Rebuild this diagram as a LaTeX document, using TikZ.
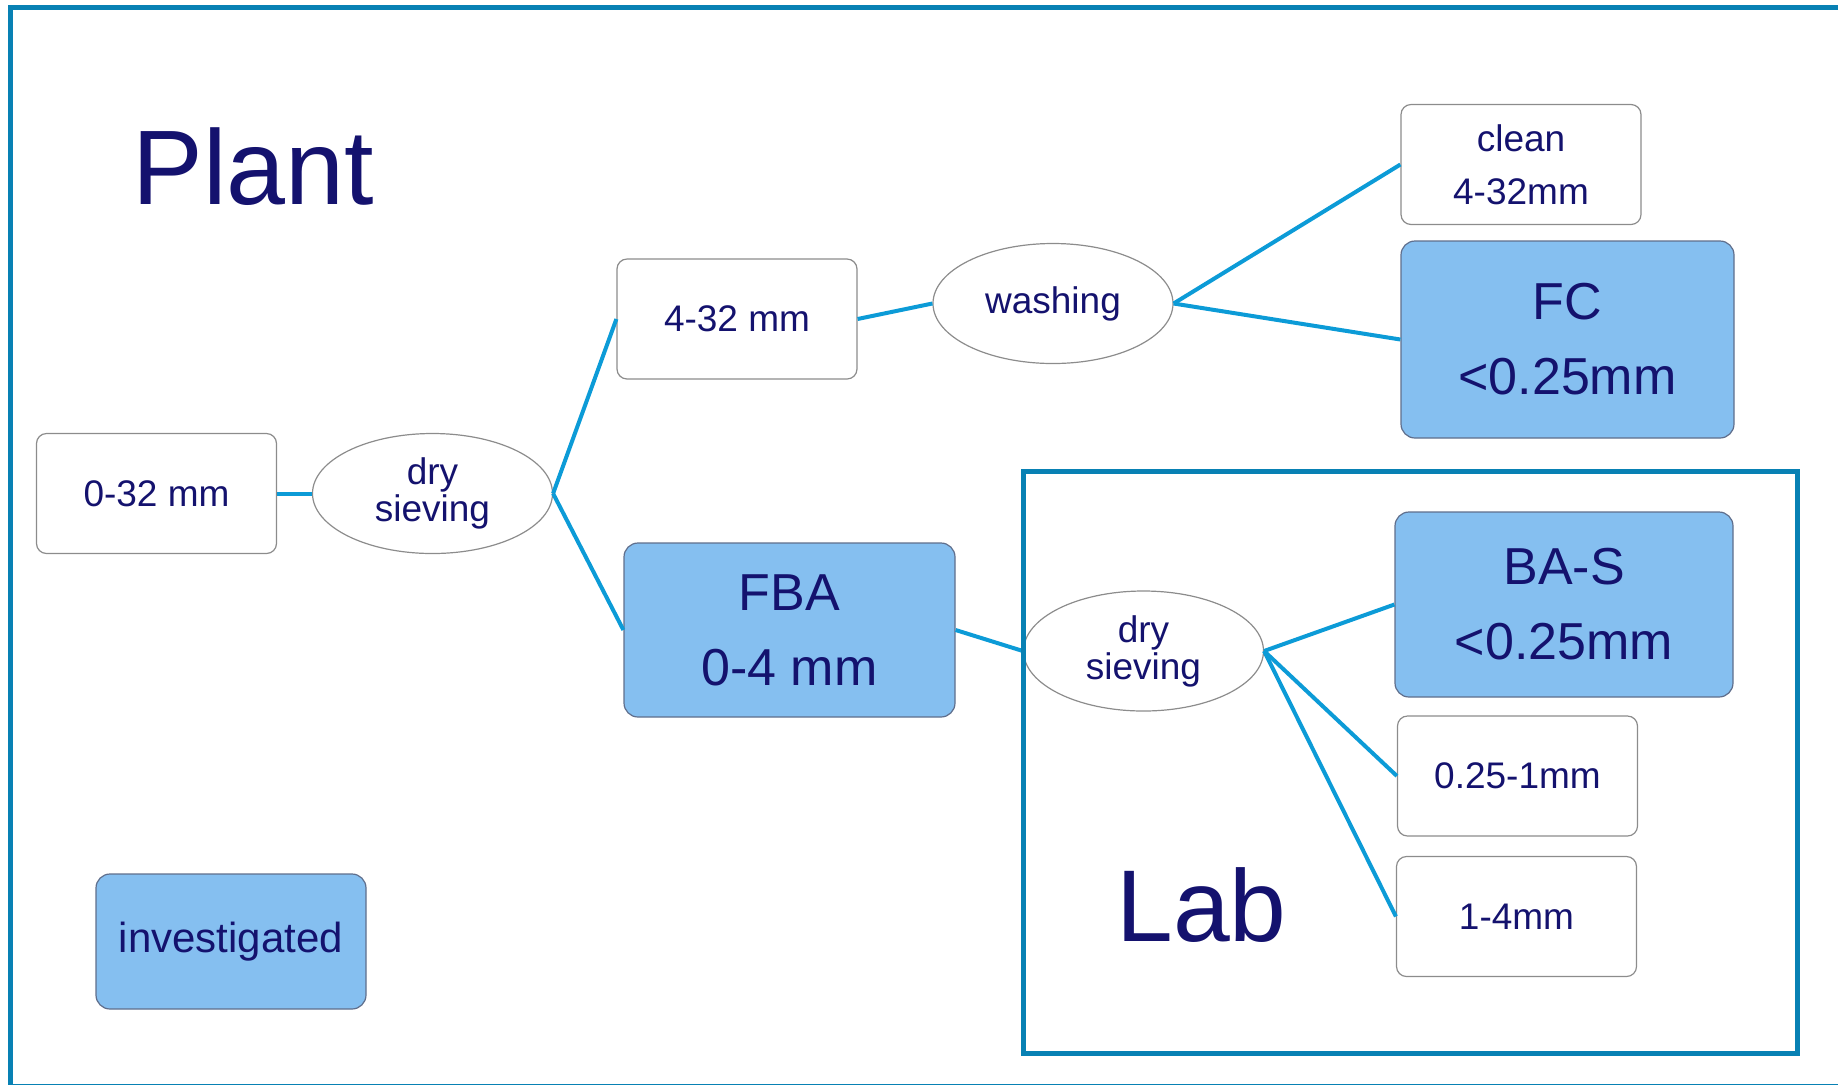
\documentclass[tikz,border=0pt]{standalone}
\usepackage{fontspec}
\setmainfont{Liberation Sans}
\usetikzlibrary{shapes.geometric}
\definecolor{framecol}{RGB}{8,129,180}
\definecolor{linkcol}{RGB}{12,155,215}
\definecolor{fillcol}{RGB}{133,191,240}
\definecolor{textcol}{RGB}{20,18,110}
\definecolor{edgegray}{RGB}{140,140,140}
\definecolor{edgeblue}{RGB}{95,110,140}
\begin{document}
\begin{tikzpicture}[x=0.5pt,y=-0.5pt]
	\tikzstyle{plainbox}=[draw=edgegray,line width=0.6pt,fill=white,rounded corners=5pt,minimum width=120pt,minimum height=60pt,inner sep=0pt,text=textcol,font=\fontsize{18.5}{26.5}\selectfont,align=center]
	\tikzstyle{hotbox}=[plainbox,draw=edgeblue,fill=fillcol,rounded corners=7pt,font=\fontsize{26}{37.5}\selectfont]
	\tikzstyle{sieve}=[ellipse,draw=edgegray,line width=0.6pt,fill=white,minimum width=120pt,minimum height=60pt,inner sep=0pt,text=textcol,font=\fontsize{18.5}{18.5}\selectfont,align=center]
	\tikzstyle{link}=[draw=linkcol,line width=2pt]
	\tikzstyle{frame}=[draw=framecol,line width=2.5pt]
	\tikzstyle{title}=[text=textcol,inner sep=0pt,anchor=base]
	\useasboundingbox (0,0) rectangle (1838,1084);
	\draw[frame] (10,7.5) rectangle (1870,1086);
	\node[plainbox] (raw) at (156.5,493.5) {0-32 mm};
	\node[sieve] (sieveA) at (432.5,493.5) {dry\\sieving};
	\node[plainbox] (coarse) at (737,319) {4-32 mm};
	\node[sieve] (wash) at (1053,303.5) {washing};
	\node[plainbox] (clean) at (1521,164.5) {clean\\4-32mm};
	\node[hotbox,minimum width=166.5pt,minimum height=98.5pt] (fc) at (1567.5,339.5) {FC\\<0.25mm};
	\node[hotbox,minimum width=165.5pt,minimum height=87pt] (fba) at (789.5,630) {FBA\\0-4 mm};
	\node[sieve] (sieveB) at (1143.5,651) {dry\\sieving};
	\node[hotbox,minimum width=169pt,minimum height=92.5pt] (bas) at (1564,604.5) {BA-S\\<0.25mm};
	\node[plainbox] (mid) at (1517.5,776) {0.25-1mm};
	\node[plainbox] (fine) at (1516.5,916.5) {1-4mm};
	\node[hotbox,minimum width=135pt,minimum height=67.5pt,font=\fontsize{21}{25}\selectfont] (legend) at (231,941.5) {investigated};
	\node[title,font=\fontsize{53}{60}\selectfont] (plant) at (253.5,204) {Plant};
	\node[title,font=\fontsize{51}{60}\selectfont] (lab) at (1201.5,941) {Lab};
	\draw[link] (raw.east) -- (sieveA.west);
	\draw[link] (sieveA.east) -- (coarse.west);
	\draw[link] (sieveA.east) -- (fba.west);
	\draw[link] (coarse.east) -- (wash.west);
	\draw[link] (wash.east) -- (clean.west);
	\draw[link] (wash.east) -- (fc.west);
	\draw[link] (fba.east) -- (sieveB.west);
	\draw[link] (sieveB.east) -- (bas.west);
	\draw[link] (sieveB.east) -- (mid.west);
	\draw[link] (sieveB.east) -- (fine.west);
	\draw[frame] (1023,471) rectangle (1797,1053);
\end{tikzpicture}
\end{document}
